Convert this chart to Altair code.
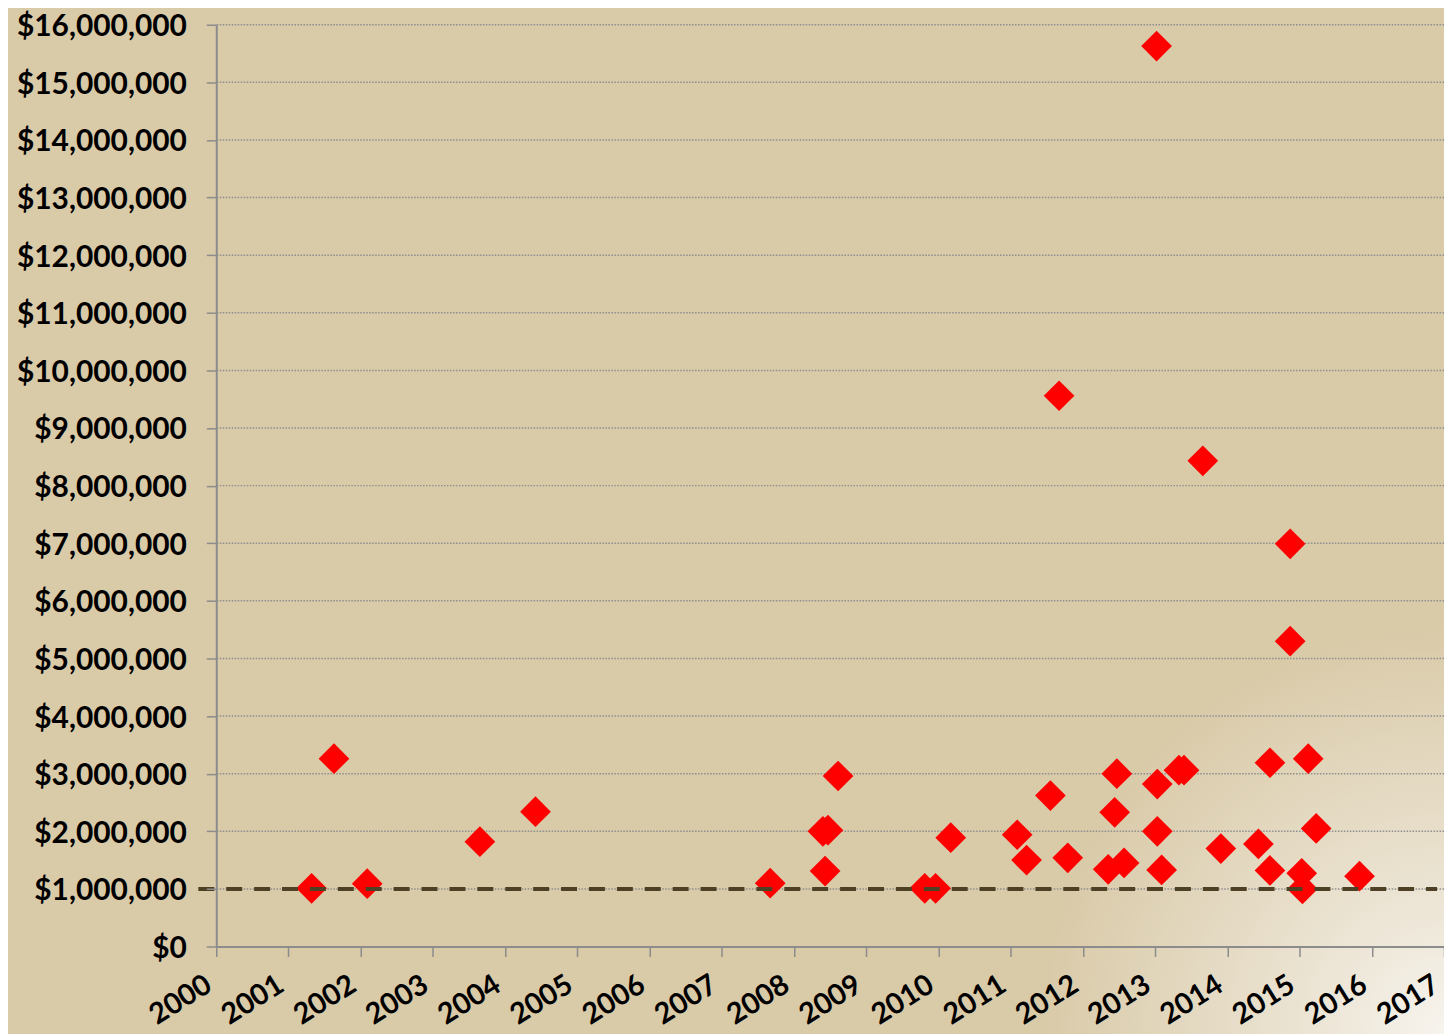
import altair as alt
import pandas as pd

# ---- data ----
years = [2001.32, 2001.63, 2002.09, 2003.65, 2004.42, 2007.67, 2008.40, 2008.47,
         2008.43, 2008.61, 2009.81, 2009.96, 2010.17, 2011.09, 2011.22, 2011.55,
         2011.67, 2011.79, 2012.35, 2012.44, 2012.47, 2012.57, 2013.02, 2013.03,
         2013.03, 2013.09, 2013.33, 2013.40, 2013.66, 2013.91, 2014.43, 2014.59,
         2014.59, 2014.87, 2014.87, 2015.03, 2015.04, 2015.12, 2015.23, 2015.83]
values_m = [1.01, 3.26, 1.09, 1.82, 2.34, 1.10, 2.00, 2.02,
            1.31, 2.96, 1.01, 1.01, 1.89, 1.94, 1.50, 2.62,
            9.56, 1.54, 1.34, 2.33, 3.00, 1.45, 15.63, 2.82,
            2.00, 1.33, 3.06, 3.06, 8.43, 1.70, 1.78, 3.19,
            1.32, 6.99, 5.30, 1.27, 1.00, 3.26, 2.05, 1.22]
amounts = [v * 1_000_000 for v in values_m]

y_ticks = list(range(0, 16_000_001, 1_000_000))
x_ticks = list(range(2000, 2018))
threshold = [1_000_000]

# ---- style ----
W, H = 1232, 925
BG = "#D9CAA8"
AXIS_GREY = "#8C8C8C"
FONT = "Lato"

pts_df = pd.DataFrame({"year": years, "amount": amounts})
grid_df = pd.DataFrame({"amount": y_ticks[1:]})
thr_df = pd.DataFrame({"amount": threshold})

xscale = alt.Scale(domain=[2000, 2017], nice=False, zero=False)
yscale = alt.Scale(domain=[0, 16_000_000], nice=False)

# soft light glow in the bottom-right corner (background decoration)
GX, GY, GR = 1235, 1011, 430
glow = alt.Chart(pd.DataFrame({"k": [0]})).mark_rect(
    fill=alt.RadialGradient(
        gradient="radial",
        x1=0.5, y1=0.5, r1=0, x2=0.5, y2=0.5, r2=0.5,
        stops=[
            alt.GradientStop(offset=0, color="#F7F4EE"),
            alt.GradientStop(offset=0.35, color="#EBE3D2"),
            alt.GradientStop(offset=0.95, color=BG),
            alt.GradientStop(offset=1, color=BG),
        ],
    )
).encode(
    x=alt.value(GX - GR), x2=alt.value(GX + GR),
    y=alt.value(GY - GR), y2=alt.value(GY + GR),
)

grid = alt.Chart(grid_df).mark_rule(
    color="#8F8F8F", strokeWidth=1.5, strokeDash=[1.5, 1.5]
).encode(y=alt.Y("amount:Q", scale=yscale))

points = alt.Chart(pts_df).mark_point(
    shape="diamond", filled=True, size=950, color="#FF0000", opacity=1
).encode(
    x=alt.X("year:Q", scale=xscale, title=None,
            axis=alt.Axis(values=x_ticks, format="d", labelAngle=328,
                          labelAlign="right", labelBaseline="alphabetic",
                          labelFont=FONT, labelFontSize=29, labelFontWeight="bold",
                          labelColor="#000000", labelPadding=33, labelOffset=-3,
                          labelFlush=False, labelOverlap=False,
                          tickSize=10, tickColor=AXIS_GREY, tickWidth=1.5,
                          domainColor=AXIS_GREY, domainWidth=2, grid=False,
                          zindex=1)),
    y=alt.Y("amount:Q", scale=yscale, title=None,
            axis=alt.Axis(values=y_ticks, format="$,.0f",
                          labelFont=FONT, labelFontSize=30, labelFontWeight="bold",
                          labelColor="#000000", labelPadding=20,
                          labelBaseline="alphabetic", labelOffset=11,
                          labelFlush=False, labelOverlap=False,
                          tickSize=10, tickColor=AXIS_GREY, tickWidth=1.5,
                          domainColor=AXIS_GREY, domainWidth=2, grid=False,
                          zindex=1)),
)

dashed = alt.Chart(thr_df).mark_rule(
    color="#4D4024", strokeWidth=4, strokeDash=[16, 12]
).encode(
    y=alt.Y("amount:Q", scale=yscale),
    x=alt.value(-18), x2=alt.value(1225),
)

chart = alt.layer(glow, grid, points, dashed).properties(
    width=W, height=H,
    autosize="none",
    padding={"left": 209, "top": 15, "right": 0, "bottom": 86},
    background=BG,
).configure_view(strokeWidth=0)

chart.save("out.html", embed_options={"renderer": "svg", "actions": False})
